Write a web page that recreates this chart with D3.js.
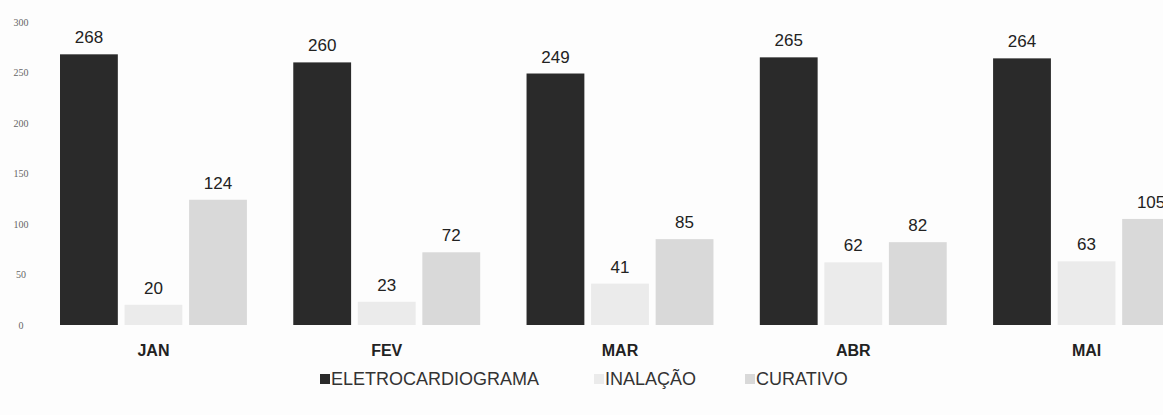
<!DOCTYPE html>
<html>
<head>
<meta charset="utf-8">
<script src="https://cdn.jsdelivr.net/npm/d3@7"></script>
<style>
  html, body { margin: 0; padding: 0; background: #fdfdfd; }
  svg { display: block; }
</style>
</head>
<body>
<svg id="chart" width="1163" height="415"></svg>
<script>
const months = ["JAN", "FEV", "MAR", "ABR", "MAI"];
const seriesNames = ["ELETROCARDIOGRAMA", "INALAÇÃO", "CURATIVO"];
const eletrocardiograma = [268, 260, 249, 265, 264];
const inalacao = [20, 23, 41, 62, 63];
const curativo = [124, 72, 85, 82, 105];
const yTicks = [0, 50, 100, 150, 200, 250, 300];
const colors = ["#2a2a2a", "#ebebeb", "#d9d9d9"];

const seriesValues = [eletrocardiograma, inalacao, curativo];
const data = months.map((m, i) => ({
  month: m,
  values: seriesNames.map((s, j) => ({ key: s, value: seriesValues[j][i], idx: j }))
}));

const svg = d3.select("#chart");
const W = 1163, H = 415;

svg.append("rect").attr("width", W).attr("height", H).attr("fill", "#fdfdfd");

const y = d3.scaleLinear().domain([0, 300]).range([325, 22]);

const x0 = d3.scaleBand().domain(months).range([60, 1180]).paddingInner(0.1987).paddingOuter(0);
const x1 = d3.scaleBand().domain(seriesNames).range([0, x0.bandwidth()]).paddingInner(0.104).paddingOuter(0);
const color = d3.scaleOrdinal().domain(seriesNames).range(colors);

// Y axis (labels only)
const yAxis = d3.axisLeft(y).tickValues(yTicks).tickSize(0).tickPadding(0);
const yg = svg.append("g").attr("transform", "translate(27,0)").call(yAxis);
yg.select(".domain").remove();
yg.selectAll("text")
  .attr("font-family", "Liberation Serif, serif")
  .attr("font-size", 10)
  .attr("fill", "#666")
  .attr("text-anchor", "middle")
  .attr("x", -6);

// Bars
const groups = svg.append("g").selectAll("g")
  .data(data).join("g")
  .attr("transform", d => `translate(${x0(d.month)},0)`);

groups.selectAll("rect")
  .data(d => d.values).join("rect")
  .attr("x", d => x1(d.key))
  .attr("y", d => y(d.value))
  .attr("width", x1.bandwidth())
  .attr("height", d => y(0) - y(d.value))
  .attr("fill", d => color(d.key));

groups.selectAll("text.val")
  .data(d => d.values).join("text")
  .attr("class", "val")
  .attr("x", d => x1(d.key) + x1.bandwidth() / 2)
  .attr("y", d => y(d.value) - 11)
  .attr("text-anchor", "middle")
  .attr("font-family", "Liberation Sans, Arial, sans-serif")
  .attr("font-size", 17)
  .attr("fill", "#222")
  .text(d => d.value);

// X axis (category labels)
const xAxis = d3.axisBottom(x0).tickSize(0).tickPadding(0);
const xg = svg.append("g").attr("transform", "translate(0,356)").call(xAxis);
xg.select(".domain").remove();
xg.selectAll("text")
  .attr("dy", 0)
  .attr("font-family", "Liberation Sans, Arial, sans-serif")
  .attr("font-size", 16)
  .attr("font-weight", "bold")
  .attr("fill", "#222");

// Legend
const legendX = [320, 594, 745];
const legend = svg.append("g").selectAll("g")
  .data(seriesNames).join("g")
  .attr("transform", (d, i) => `translate(${legendX[i]},385)`);
legend.append("rect")
  .attr("x", 0).attr("y", -11).attr("width", 10).attr("height", 10)
  .attr("fill", d => color(d));
legend.append("text")
  .attr("x", 11).attr("y", 0)
  .attr("font-family", "Liberation Sans, Arial, sans-serif")
  .attr("font-size", 18)
  .attr("fill", "#333")
  .text(d => d);
</script>
</body>
</html>
